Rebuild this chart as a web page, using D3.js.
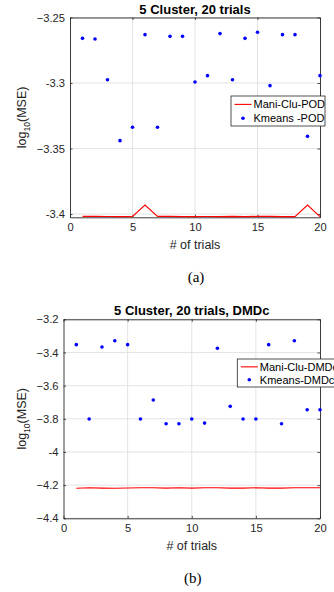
<!DOCTYPE html>
<html>
<head>
<meta charset="utf-8">
<script src="https://cdn.jsdelivr.net/npm/d3@7"></script>
<style>
  body { margin: 0; background: #fff; }
  svg { display: block; }
  text { font-family: "Liberation Sans", Arial, sans-serif; fill: #262626; }
  text.caption { font-family: "Liberation Serif", "Times New Roman", serif; fill: #000; }
</style>
</head>
<body>
<div id="chart"></div>
<script>
// trial index shared by both panels
const trials = d3.range(1, 21);

// panel (a): POD
const podMani = [-3.4018, -3.4018, -3.4019, -3.4020, -3.4018, -3.3931, -3.4018, -3.4018, -3.4020, -3.4020,
                 -3.4019, -3.4020, -3.4018, -3.4020, -3.4018, -3.4018, -3.4020, -3.4020, -3.3931, -3.4020];
const podKmeans = [-3.2659, -3.2664, -3.2975, -3.3440, -3.3338, -3.2631, -3.3338, -3.2644, -3.2644, -3.2992,
                   -3.2944, -3.2623, -3.2975, -3.2659, -3.2613, -3.3020, -3.2631, -3.2631, -3.3407, -3.2944];
const podTicks = [-3.4, -3.35, -3.3, -3.25];

// panel (b): DMDc
const dmdMani = [-4.219, -4.216, -4.218, -4.219, -4.217, -4.216, -4.216, -4.218, -4.216, -4.218,
                 -4.216, -4.216, -4.218, -4.218, -4.216, -4.218, -4.218, -4.216, -4.216, -4.216];
const dmdKmeans = [-3.353, -3.801, -3.367, -3.329, -3.353, -3.801, -3.687, -3.830, -3.830, -3.801,
                   -3.826, -3.375, -3.725, -3.801, -3.801, -3.353, -3.830, -3.329, -3.745, -3.745];
const dmdTicks = [-4.4, -4.2, -4, -3.8, -3.6, -3.4, -3.2];

const xTicks = [0, 5, 10, 15, 20];

const W = 334, H = 592;
const svg = d3.select("#chart").append("svg")
    .attr("width", W)
    .attr("height", H);

const panels = [
    {
        title: "5 Cluster, 20 trials",
        tag: "(a)",
        mani: podMani, kmeans: podKmeans,
        names: ["Mani-Clu-POD", "Kmeans -POD"],
        yDomain: [-3.4025, -3.25], yTicks: podTicks,
        fmt: d => d === -3.4 ? "-3.4" : d === -3.3 ? "-3.3" : d3.format(".2f")(d),
        left: 70, right: 320, top: 17.5, bottom: 217.3,
        legend: { x: 231, y: 96, w: 94, h: 30 }
    },
    {
        title: "5 Cluster, 20 trials, DMDc",
        tag: "(b)",
        mani: dmdMani, kmeans: dmdKmeans,
        names: ["Mani-Clu-DMDc", "Kmeans-DMDc"],
        yDomain: [-4.4, -3.2], yTicks: dmdTicks,
        fmt: d => d === -4 ? "-4" : d3.format(".1f")(d),
        left: 63.5, right: 320, top: 319.3, bottom: 518.3,
        legend: { x: 237.3, y: 359, w: 105, h: 28 }
    }
];

panels.forEach(function (p) {
    const x = d3.scaleLinear().domain([0, 20]).range([p.left, p.right]);
    const y = d3.scaleLinear().domain(p.yDomain).range([p.bottom, p.top]);
    const g = svg.append("g");
    const tickLen = 2.5;

    // grid
    g.selectAll(".gx").data(xTicks.slice(1, -1)).enter().append("line")
        .attr("x1", d => x(d)).attr("x2", d => x(d))
        .attr("y1", p.top).attr("y2", p.bottom)
        .attr("stroke", "#dcdcdc").attr("stroke-width", 0.8);
    g.selectAll(".gy").data(p.yTicks).enter().append("line")
        .attr("x1", p.left).attr("x2", p.right)
        .attr("y1", d => y(d)).attr("y2", d => y(d))
        .attr("stroke", "#dcdcdc").attr("stroke-width", 0.8);

    // axes, MATLAB style ticks pointing in, on all four sides
    const bottomAxis = d3.axisBottom(x).tickValues(xTicks).tickSize(-tickLen).tickPadding(6).tickSizeOuter(0);
    const leftAxis = d3.axisLeft(y).tickValues(p.yTicks).tickSize(-tickLen).tickPadding(5).tickFormat(p.fmt).tickSizeOuter(0);

    const gb = g.append("g").attr("transform", "translate(0," + p.bottom + ")").call(bottomAxis);
    const gl = g.append("g").attr("transform", "translate(" + p.left + ",0)").call(leftAxis);
    const gt = g.append("g").attr("transform", "translate(0," + p.top + ")")
        .call(d3.axisTop(x).tickValues(xTicks).tickSize(-tickLen).tickFormat("").tickSizeOuter(0));
    const gr = g.append("g").attr("transform", "translate(" + p.right + ",0)")
        .call(d3.axisRight(y).tickValues(p.yTicks).tickSize(-tickLen).tickFormat("").tickSizeOuter(0));

    [gb, gl, gt, gr].forEach(function (a) {
        a.selectAll("path").attr("stroke", "#262626").attr("stroke-width", 0.9);
        a.selectAll("line").attr("stroke", "#262626").attr("stroke-width", 0.8);
        a.selectAll("text").attr("font-size", 11.2).attr("fill", "#262626");
    });

    // title
    g.append("text")
        .attr("x", (p.left + p.right) / 2)
        .attr("y", p.top - 4)
        .attr("text-anchor", "middle")
        .attr("font-size", 13)
        .attr("font-weight", "bold")
        .style("fill", "#000")
        .text(p.title);

    // axis labels
    g.append("text")
        .attr("x", (p.left + p.right) / 2)
        .attr("y", p.bottom + 32)
        .attr("text-anchor", "middle")
        .attr("font-size", 12.5)
        .text("# of trials");

    const yl = g.append("text")
        .attr("transform", "translate(26," + ((p.top + p.bottom) / 2) + ") rotate(-90)")
        .attr("text-anchor", "middle")
        .attr("font-size", 12.5);
    yl.append("tspan").text("log");
    yl.append("tspan").attr("font-size", 8.5).attr("dy", 3.5).text("10");
    yl.append("tspan").attr("dy", -3.5).text("(MSE)");

    // series
    const line = d3.line().x((d, i) => x(trials[i])).y(d => y(d));
    g.append("path")
        .datum(p.mani)
        .attr("d", line)
        .attr("fill", "none")
        .attr("stroke", "#ff0000")
        .attr("stroke-width", 1.1);

    g.selectAll(".dot").data(p.kmeans).enter().append("circle")
        .attr("cx", (d, i) => x(trials[i]))
        .attr("cy", d => y(d))
        .attr("r", 1.8)
        .attr("fill", "#0000ff");

    // legend
    const L = p.legend;
    const lg = g.append("g");
    lg.append("rect")
        .attr("x", L.x).attr("y", L.y).attr("width", L.w).attr("height", L.h)
        .attr("fill", "#fff").attr("stroke", "#262626").attr("stroke-width", 0.8);
    const row1 = L.y + L.h * 0.28, row2 = L.y + L.h * 0.74;
    lg.append("line")
        .attr("x1", L.x + 3.5).attr("x2", L.x + 20.5)
        .attr("y1", row1).attr("y2", row1)
        .attr("stroke", "#ff0000").attr("stroke-width", 1.1);
    lg.append("circle")
        .attr("cx", L.x + 12).attr("cy", row2).attr("r", 1.8).attr("fill", "#0000ff");
    lg.selectAll(".lt").data(p.names).enter().append("text")
        .attr("x", L.x + 22.5)
        .attr("y", (d, i) => (i === 0 ? row1 : row2) + 4)
        .attr("font-size", 11)
        .style("fill", "#000")
        .text(d => d);

    // caption
    g.append("text")
        .attr("class", "caption")
        .attr("x", (p.left + p.right) / 2 + 1)
        .attr("y", p.bottom + 65)
        .attr("text-anchor", "middle")
        .attr("font-size", 15)
        .text(p.tag);
});
</script>
</body>
</html>
